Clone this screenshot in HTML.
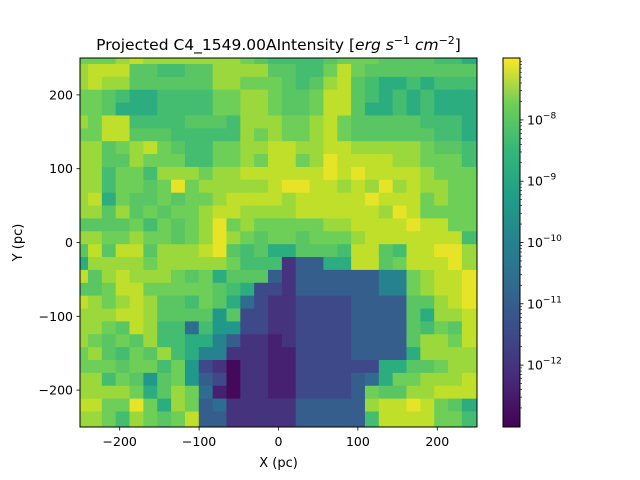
<!DOCTYPE html>
<html><head><meta charset="utf-8"><style>
body{margin:0;background:#fff;}
svg{display:block;font-family:"DejaVu Sans","Liberation Sans",sans-serif;}
</style></head><body>
<svg id="fig" width="640" height="480" viewBox="0 0 640 480">
<defs><clipPath id="pc"><rect x="80" y="58" width="397" height="369"/></clipPath>
<linearGradient id="vg" x1="0" y1="1" x2="0" y2="0">
<stop offset="0" stop-color="#440154"/><stop offset="0.125" stop-color="#482878"/><stop offset="0.25" stop-color="#3e4989"/><stop offset="0.375" stop-color="#31688e"/><stop offset="0.5" stop-color="#26828e"/><stop offset="0.625" stop-color="#1f9e89"/><stop offset="0.75" stop-color="#35b779"/><stop offset="0.875" stop-color="#6ece58"/><stop offset="1" stop-color="#fde725"/></linearGradient></defs>
<text x="278.5" y="50" font-size="15.5" text-anchor="middle">Projected C4_1549.00AIntensity [<tspan font-style="italic">erg s</tspan><tspan font-size="11" dy="-6">−1</tspan><tspan dy="6" font-style="italic"> cm</tspan><tspan font-size="11" dy="-6">−2</tspan><tspan dy="6">]</tspan></text>
<g id="cells" clip-path="url(#pc)"></g>
<rect x="80" y="58" width="397" height="369" fill="none" stroke="#000" stroke-width="1"/>
<g id="xt"></g>
<g id="yt"></g>
<text x="278.5" y="467" font-size="13" text-anchor="middle">X (pc)</text>
<text transform="translate(22,242.5) rotate(-90)" font-size="13" text-anchor="middle">Y (pc)</text>
<rect x="503" y="58" width="17" height="369" fill="url(#vg)" stroke="#000" stroke-width="1"/>
<g id="ct"></g>
</svg>
<script>
// Grid rows (top to bottom), one code per cell, 29 columns
const gridRows = [
"66678777777765444456665555443",
"78885544557777554468655555555",
"78775555557766654578543343444",
"66543344446677655688543434333",
"66533344446677655688533434333",
"76884444555477766786555554443",
"66885554444476766786555555443",
"77567865446677887788777776554",
"77557666446676886798888776664",
"77466477767788888898988887666",
"77466569677777899887879787766",
"78365565667888878888898886766",
"77575656678877778888887986666",
"55556465679676666677888898866",
"77667665679765665666788888884",
"58588577789545335554885488997",
"377776777776444ecc33885688897",
"85787776563555cecccccctt67889",
"5568866666543ddecccccctt67889",
"876787554653bdeeddddcccc55789",
"777887555525ddeeddddcccc53778",
"77658744b422ddeeddddcccc54658",
"7656574433tceefeddddcccc57768",
"675465743tteeeffddddcccc37777",
"666566462degeeffdddddd3355677",
"774652562cdgeeffddddcb3667778",
"777763576bfgeeffddddc65577888",
"886696376cbeeeeeccccc78898653",
"776476568cceeeeeccccc48888664"
];
// log10 intensity for each code
const codeKeys = ["9","8","7","6","5","4","3","2","t","b","c","d","e","f","g"];
const codeVals = [-7.1,-7.3,-7.5,-7.75,-8.0,-8.3,-8.8,-9.4,-10.0,-10.6,-11.0,-11.5,-12.0,-12.4,-12.85];
const xTicks = [-200,-100,0,100,200];
const yTicks = [-200,-100,0,100,200];
const cbTicks = [-8,-9,-10,-11,-12];
const cbMin = -13.01, cbMax = -6.99;
const cellSize = 17.44, gridX0 = -257.36, gridYTop = 259.34;

const NS="http://www.w3.org/2000/svg";
const X=v=>80+(v+250)*397/500;
const Y=v=>58+(250-v)*369/500;
const CB=v=>58+(cbMax-v)/(cbMax-cbMin)*369;
const stops=[[0,[68,1,84]],[0.125,[72,40,120]],[0.25,[62,73,137]],[0.375,[49,104,142]],[0.5,[38,130,142]],[0.625,[31,158,137]],[0.75,[53,183,121]],[0.875,[110,206,88]],[0.94,[181,222,43]],[1,[253,231,37]]];
function viridis(t){t=Math.max(0,Math.min(1,t));for(let i=1;i<stops.length;i++){if(t<=stops[i][0]){const a=stops[i-1],b=stops[i],f=(t-a[0])/(b[0]-a[0]);const c=a[1].map((v,k)=>Math.round(v+(b[1][k]-v)*f));return `rgb(${c[0]},${c[1]},${c[2]})`;}}return "rgb(253,231,37)";}
function mk(tag,attrs,parent){const e=document.createElementNS(NS,tag);for(const k in attrs)e.setAttribute(k,attrs[k]);parent.appendChild(e);return e;}
const cg=document.getElementById('cells');
gridRows.forEach((row,r)=>{
  [...row].forEach((ch,c)=>{
    const v=codeVals[codeKeys.indexOf(ch)];
    const x0=gridX0+c*cellSize, y0=gridYTop-r*cellSize;
    const x1=(c===row.length-1)?260:x0+cellSize, y1=(r===gridRows.length-1)?-260:y0-cellSize;
    const e=mk('rect',{x:X(x0).toFixed(2),y:Y(y0).toFixed(2),width:(X(x1)-X(x0)+0.4).toFixed(2),height:(Y(y1)-Y(y0)+0.4).toFixed(2),fill:viridis((v-cbMin)/(cbMax-cbMin))},cg);
    
    
  });
});
const xt=document.getElementById('xt');
xTicks.forEach(t=>{
  const l=mk('line',{x1:X(t),x2:X(t),y1:427,y2:430.5,stroke:'#000','stroke-width':0.8},xt);
  
  
  const s=mk('text',{x:X(t),y:446,'font-size':12.5,'text-anchor':'middle'},xt);
  s.textContent=(t<0?'−':'')+Math.abs(t);
  
  
});
const yt=document.getElementById('yt');
yTicks.forEach(t=>{
  const l=mk('line',{x1:76.5,x2:80,y1:Y(t),y2:Y(t),stroke:'#000','stroke-width':0.8},yt);
  
  
  const s=mk('text',{x:73,y:Y(t)+4.5,'font-size':12.5,'text-anchor':'end'},yt);
  s.textContent=(t<0?'−':'')+Math.abs(t);
  
  
});
const ct=document.getElementById('ct');
for(let d=-14;d<=-7;d++){for(let m=2;m<=9;m++){const v=d+Math.log10(m);if(v<cbMin||v>cbMax)continue;
  const l=mk('line',{x1:520,x2:522,y1:CB(v),y2:CB(v),stroke:'#000','stroke-width':0.6},ct);
  
  }}
cbTicks.forEach(t=>{
  const l=mk('line',{x1:520,x2:523.5,y1:CB(t),y2:CB(t),stroke:'#000','stroke-width':0.8},ct);
  
  
  const s=mk('text',{x:527,y:CB(t)+4.5,'font-size':12.5},ct);
  
  
  const a=document.createElementNS(NS,'tspan');a.textContent='10';s.appendChild(a);
  const b=document.createElementNS(NS,'tspan');b.setAttribute('dy','-6');b.setAttribute('font-size','9');b.textContent='−'+Math.abs(t);s.appendChild(b);
});
</script>
</body></html>
